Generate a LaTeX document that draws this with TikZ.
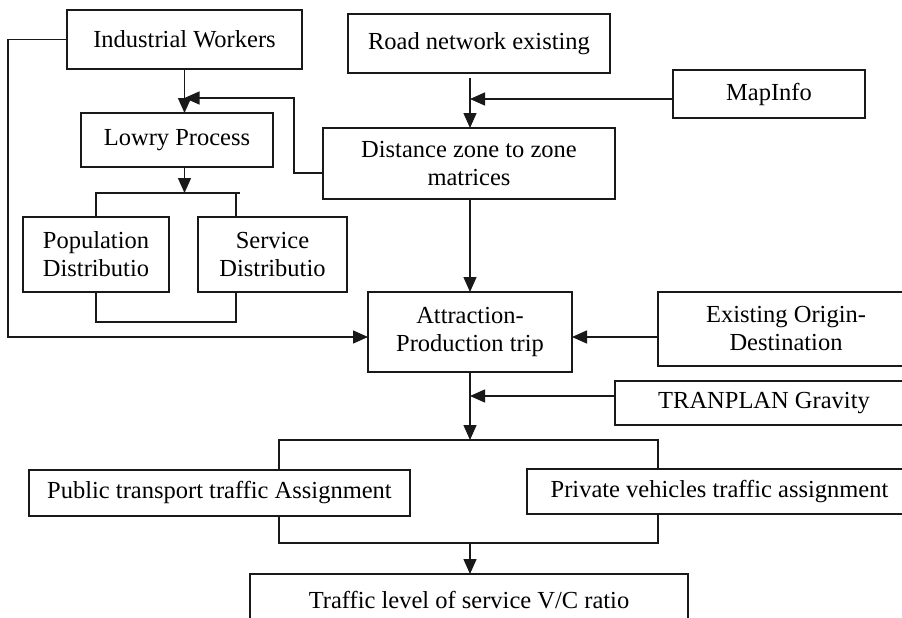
\documentclass[tikz,border=0pt]{standalone}
\usepackage{fontspec}
\setmainfont{Liberation Serif}
\usetikzlibrary{arrows.meta,calc}
\begin{document}
\begin{tikzpicture}[x=1pt,y=-1pt,
  line width=1.4pt, draw=black!90,
  box/.style={draw=black!90, line width=1.3pt, rectangle, inner sep=0pt, outer sep=0pt,
    align=center, font=\fontsize{24.5}{28}\selectfont, text=black},
  arr/.style={-{Triangle[length=15pt,width=13pt]}}]
\useasboundingbox (0,0) rectangle (902,618);
\fill[white] (0,0) rectangle (902,618);
\clip (0,0) rectangle (902,618);

% boxes
\node[box, minimum width=235, minimum height=59] (iw)      at (184.5,39.5) {Industrial Workers};
\node[box, minimum width=262, minimum height=59] (road)    at (479,43.5)   {Road network existing};
\node[box, minimum width=192, minimum height=48] (mapinfo) at (769,94)     {MapInfo};
\node[box, minimum width=292, minimum height=71] (dist)    at (469,163.5)  {Distance zone to zone\\matrices};
\node[box, minimum width=192, minimum height=54] (lowry)   at (177,140)    {Lowry Process};
\node[box, minimum width=146, minimum height=75] (pop)     at (96,254.5)   {Population\\Distributio};
\node[box, minimum width=149, minimum height=75] (serv)    at (272.5,254.5){Service\\Distributio};
\node[box, minimum width=204, minimum height=80] (attr)    at (470,332)    {Attraction-\\Production trip};
\node[box, minimum width=256, minimum height=74] (exist)   at (786,329)    {Existing Origin-\\Destination};
\node[box, minimum width=298, minimum height=44] (tran)    at (764,403)    {TRANPLAN Gravity};
\node[box, minimum width=381, minimum height=46] (pub)     at (219.5,493)  {Public transport traffic Assignment};
\node[box, minimum width=385, minimum height=45] (priv)    at (719.5,491.5){Private vehicles traffic assignment};
\node[box, minimum width=438, minimum height=52] (traffic) at (469,600)    {Traffic level of service V/C ratio};

% junction points
\coordinate (fb)  at (184.5,98);
\coordinate (sp1) at (184.5,193);
\coordinate (sl)  at (96,193);
\coordinate (sr)  at (240,193);
\coordinate (mi)  at (470,99);
\coordinate (tg)  at (470,396);
\coordinate (sp2) at (470,440);
\coordinate (mg2) at (470,543);

% upper left part
\draw[arr] (iw.south) -- (iw.south |- lowry.north);
\draw[arr] ([yshift=-9.5pt]dist.west) -- ++(-29,0) |- (fb);
\draw[arr] (lowry.south -| sp1) -- (sp1);
\draw (pop.north) -- (sl) -- (sr);
\draw (serv.north -| 236,0) -- (236,193);
\draw (pop.south) -- (96,322) -- (236,322) -- (serv.south -| 236,0);
\draw[arr] (iw.west) -- (8,39.5) |- ([yshift=-5pt]attr.west);

% centre column
\draw[arr] ([yshift=-5pt]mi |- road.south) -- (mi |- dist.north);
\draw[arr] ([yshift=-5pt]mapinfo.west) -- (mi);
\draw[arr] (attr.north |- dist.south) -- (attr.north);
\draw[arr] ([yshift=-8pt]exist.west) -- (attr.east |- 0,337);
\draw[arr] (attr.south) -- (sp2);
\draw[arr] ([yshift=7pt]tran.west) -- (tg);

% assignment split and merge
\draw (pub.north -| 279,0) -- (279,440) -- (658,440) -- (priv.north -| 658,0);
\draw (pub.south -| 279,0) -- (279,543) -- (658,543) -- (priv.south -| 658,0);
\draw[arr] (mg2) -- (mg2 |- traffic.north);
\end{tikzpicture}
\end{document}
